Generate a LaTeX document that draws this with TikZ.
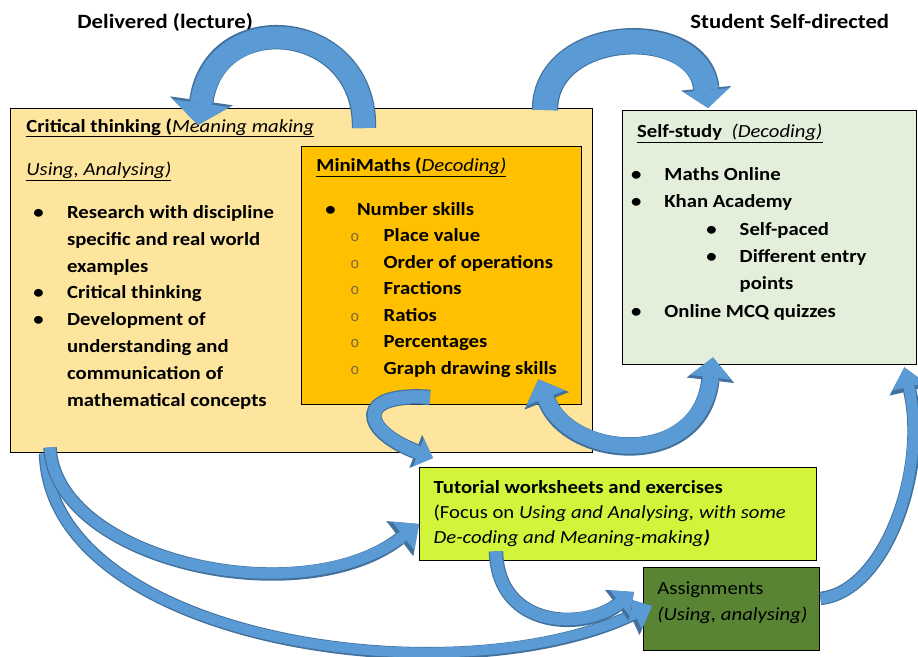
\documentclass[tikz,border=0pt]{standalone}
\usepackage{fontspec}
\setmainfont[FakeStretch=1.12]{Carlito}
\newfontfamily\circfont{Liberation Mono}
\usetikzlibrary{arrows.meta,calc,positioning}

\definecolor{critfill}{RGB}{253,229,158}
\definecolor{minifill}{RGB}{255,192,0}
\definecolor{selffill}{RGB}{227,239,218}
\definecolor{tutfill}{RGB}{210,245,60}
\definecolor{assignfill}{RGB}{88,132,52}
\definecolor{arrowfill}{RGB}{91,155,213}
\definecolor{arrowedge}{RGB}{65,113,156}
\definecolor{circgray}{RGB}{120,100,60}

% bullet at #1, item text at #1+#2
\newcommand\itm[2]{\hspace*{#1}\makebox[#2][l]{\textbullet}}
\newcommand\subitm[2]{\hspace*{#1}\makebox[#2][l]{\fontsize{15}{15}\circfont\mdseries\color{circgray}o}}

\begin{document}
\begin{tikzpicture}[x=1pt,y=-1pt,thick,
  box/.style={draw=black,line width=1.4pt,anchor=north west,inner sep=0pt},
  txt/.style={anchor=base west,align=left,inner sep=0pt,font=\fontsize{18.5}{26.8}\selectfont},
  blockarrow/.style n args={3}{line width=#1,draw=arrowfill,
    -{Triangle[width=0pt #2,length=0pt #3,line width=0pt]},
    preaction={draw=arrowedge,line width=#1+2.4pt,
      -{Triangle[width=0pt #2,length=0pt #3,line width=0pt]}}},
  twinarrow/.style n args={3}{line width=#1,draw=arrowfill,
    {Triangle[width=0pt #2,length=0pt #3,line width=0pt]}-{Triangle[width=0pt #2,length=0pt #3,line width=0pt]},
    preaction={draw=arrowedge,line width=#1+2.4pt,
      {Triangle[width=0pt #2,length=0pt #3,line width=0pt]}-{Triangle[width=0pt #2,length=0pt #3,line width=0pt]}}}]

\useasboundingbox[fill=white] (0,0) rectangle (918,656);

% boxes
\node[box,fill=critfill,minimum width=582pt,minimum height=344pt] (crit) at (10,108) {};
\node[box,fill=minifill,minimum width=280pt,minimum height=258pt] (mini) at (301,146) {};
\node[box,fill=selffill,minimum width=294pt,minimum height=254pt] (self) at (622,110) {};
\node[box,fill=tutfill,minimum width=397pt,minimum height=93pt] (tut) at (419,467) {};
\node[box,fill=assignfill,minimum width=176pt,minimum height=83pt] (assign) at (643,567) {};

% headings over the two sides (base = last line)
\node[txt,font=\fontsize{20.3}{26}\selectfont\bfseries] (lecture) at (77,28.3) {Delivered (lecture)};
\node[txt,font=\fontsize{20.3}{26}\selectfont\bfseries] (directed) at (690,28.3) {Student Self-directed};

\node[txt,font=\fontsize{18.5}{26.8}\selectfont\bfseries] (critText) at (26,406) {%
  \underline{Critical thinking (\textmd{\itshape Meaning making}}\\[16.7pt]
  \underline{\mdseries\itshape Using, Analysing)}\\[16pt]
  \itm{7pt}{33.7pt}Research with discipline\\
  \hspace*{40.7pt}specific and real world\\
  \hspace*{40.7pt}examples\\
  \itm{7pt}{33.7pt}Critical thinking\\
  \itm{7pt}{33.7pt}Development of\\
  \hspace*{40.7pt}understanding and\\
  \hspace*{40.7pt}communication of\\
  \hspace*{40.7pt}mathematical concepts};

\node[txt,font=\fontsize{18.5}{26.5}\selectfont\bfseries] (miniText) at (316,374) {%
  \underline{MiniMaths (\textmd{\itshape Decoding)}}\\[16.8pt]
  \itm{9pt}{31.7pt}Number skills\\
  \subitm{34pt}{33.3pt}Place value\\
  \subitm{34pt}{33.3pt}Order of operations\\
  \subitm{34pt}{33.3pt}Fractions\\
  \subitm{34pt}{33.3pt}Ratios\\
  \subitm{34pt}{33.3pt}Percentages\\
  \subitm{34pt}{33.3pt}Graph drawing skills};

\node[txt,font=\fontsize{18.5}{27.4}\selectfont\bfseries] (selfText) at (630.7,317.3) {%
  \hspace*{6pt}\underline{Self-study\ \ \textmd{\itshape (Decoding)}}\\[15.1pt]
  \itm{0pt}{33.3pt}Maths Online\\
  \itm{0pt}{33.3pt}Khan Academy\\
  \itm{75.3pt}{33.3pt}Self-paced\\
  \itm{75.3pt}{33.3pt}Different entry\\
  \hspace*{108.6pt}points\\
  \itm{0pt}{33.3pt}Online MCQ quizzes};

\node[txt,font=\fontsize{18.5}{25}\selectfont] (tutText) at (433.3,543) {%
  \textbf{Tutorial worksheets and exercises}\\
  (Focus on \textit{Using and Analysing, with some}\\
  \textit{De-coding and Meaning-making}\textbf{\textit{)}}};

\node[txt,font=\fontsize{18.5}{26}\selectfont] (assignText) at (657,620) {%
  Assignments\\
  \textit{(Using, analysing)}};

% arrow ends
\coordinate (lecTail) at ($(crit.north west)+(354,20)$);
\coordinate (lecHead) at ($(crit.north west)+(188,17)$);
\coordinate (dirTail) at ($(crit.north west)+(535,2)$);
\coordinate (dirHead) at ($(self.north west)+(86,-2)$);
\coordinate (curlTail) at ($(mini.south west)+(129,-8)$);
\coordinate (curlHead) at ($(tut.north west)+(14,-9)$);
\coordinate (twinA) at ($(mini.south east)+(-44,-26)$);
\coordinate (twinB) at ($(self.south west)+(91,-8)$);
\coordinate (critOut) at ($(crit.south west)+(40,-6)$);
\coordinate (critOutB) at ($(crit.south west)+(35,0)$);
\coordinate (tutIn) at ($(tut.north west)+(0,57)$);
\coordinate (tutOut) at ($(tut.south west)+(77,-10)$);
\coordinate (assignIn) at ($(assign.north west)+(-9,25)$);
\coordinate (assignInB) at ($(assign.north west)+(9,39)$);
\coordinate (assignOut) at ($(assign.south east)+(0,-53)$);
\coordinate (selfIn) at ($(self.south east)+(-13,2)$);

\draw[blockarrow={22pt}{2.6}{1.0}] (lecTail) .. controls (366,20) and (215,5) .. (lecHead);
\draw[blockarrow={24pt}{1.9}{0.75}] (dirTail) .. controls (545,25) and (700,20) .. (dirHead);
\draw[blockarrow={13pt}{2.3}{1.2}] (curlTail) .. controls (355,392) and (360,430) .. (curlHead);
\draw[twinarrow={16pt}{2.6}{1.25}] (twinA) .. controls (570,460) and (700,470) .. (twinB);
\draw[blockarrow={10pt}{3.4}{1.9}] (critOutB) .. controls (50,640) and (450,700) .. (assignInB);
\draw[blockarrow={11pt}{3.3}{1.8}] (critOut) .. controls (55,560) and (300,615) .. (tutIn);
\draw[blockarrow={12pt}{2.7}{1.5}] (tutOut) .. controls (498,630) and (585,630) .. (assignIn);
\draw[blockarrow={11pt}{3.1}{1.8}] (assignOut) .. controls (885,592) and (928,470) .. (selfIn);

\end{tikzpicture}
\end{document}
